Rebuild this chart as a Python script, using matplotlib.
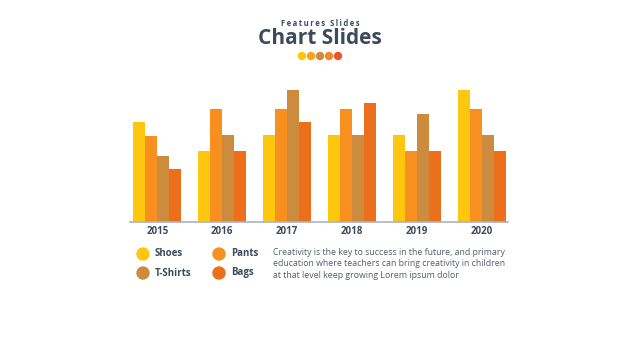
import matplotlib.pyplot as plt
import numpy as np
from matplotlib.patches import Ellipse

# datos
years = ['2015', '2016', '2017', '2018', '2019', '2020']
series = ['Shoes', 'Pants', 'T-Shirts', 'Bags']
shoes = [3.8, 2.7, 3.3, 3.3, 3.3, 5.0]
pants = [3.25, 4.3, 4.3, 4.3, 2.7, 4.3]
tshirts = [2.5, 3.3, 5.0, 3.3, 4.1, 3.3]
bags = [2.0, 2.7, 3.8, 4.5, 2.7, 2.7]
colores = ['#FDC70F', '#F7901E', '#CD8B3E', '#EC6F1C']
dot_colors = ['#FDC70F', '#F7A21E', '#CD8B3E', '#F08A2A', '#E8562A']

texto = ("Creativity is the key to success in the future, and primary\n"
         "education where teachers can bring creativity in children\n"
         "at that level keep growing Lorem ipsum dolor")

dark = '#3D4A5C'

fig = plt.figure(figsize=(6.4, 3.6), dpi=100)
fig.patch.set_facecolor('white')

# Encabezado (subtitulo con letras espaciadas)
sub = '\u2009'.join('Features Slides')
fig.text(0.5, 1 - 24 / 360, sub, ha='center', va='center',
         fontsize=5.5, fontweight='bold', color=dark, family=['Open Sans', 'DejaVu Sans'])
fig.text(0.5, 1 - 38 / 360, 'Chart Slides', ha='center', va='center',
         fontsize=15, fontweight='bold', color=dark, family='Open Sans')

deco = fig.add_axes([0, 0, 1, 1])
deco.set_xlim(0, 640)
deco.set_ylim(360, 0)
deco.axis('off')
for i, c in enumerate(dot_colors):
    deco.add_patch(Ellipse((302 + i * 9, 56), 7, 7, color=c))

# Barras
ax = fig.add_axes([130 / 640, 1 - 222 / 360, 378 / 640, 134 / 360])
x = np.arange(len(years))
w = 0.185
data = [shoes, pants, tshirts, bags]
for i, (vals, c) in enumerate(zip(data, colores)):
    ax.bar(x + (i - 1.5) * w, vals, width=w, color=c, linewidth=0)
ax.set_xlim(-0.42, 5.4)
ax.set_ylim(0, 5.08)
ax.set_xticks(x)
ax.set_xticklabels(years, fontsize=7, fontweight='bold', color=dark, family='Open Sans')
ax.tick_params(axis='x', length=0, pad=3)
ax.set_yticks([])
for s in ['top', 'right', 'left']:
    ax.spines[s].set_visible(False)
ax.spines['bottom'].set_color('#A9B4C2')
ax.spines['bottom'].set_linewidth(1.2)
ax.patch.set_alpha(0)

# Leyenda
pos = [(143, 254), (219, 254), (143, 273), (219, 273)]
for (px, py), c, name in zip(pos, colores, series):
    deco.add_patch(Ellipse((px, py), 12, 12, color=c))
    deco.text(px + 12, py, name, ha='left', va='center', fontsize=7,
              fontweight='bold', color=dark, family='Open Sans')

deco.text(273, 264, texto, ha='left', va='center', fontsize=6.3,
          color='#555E6B', family='Open Sans', linespacing=1.3)

plt.savefig('out.png', dpi=100)
